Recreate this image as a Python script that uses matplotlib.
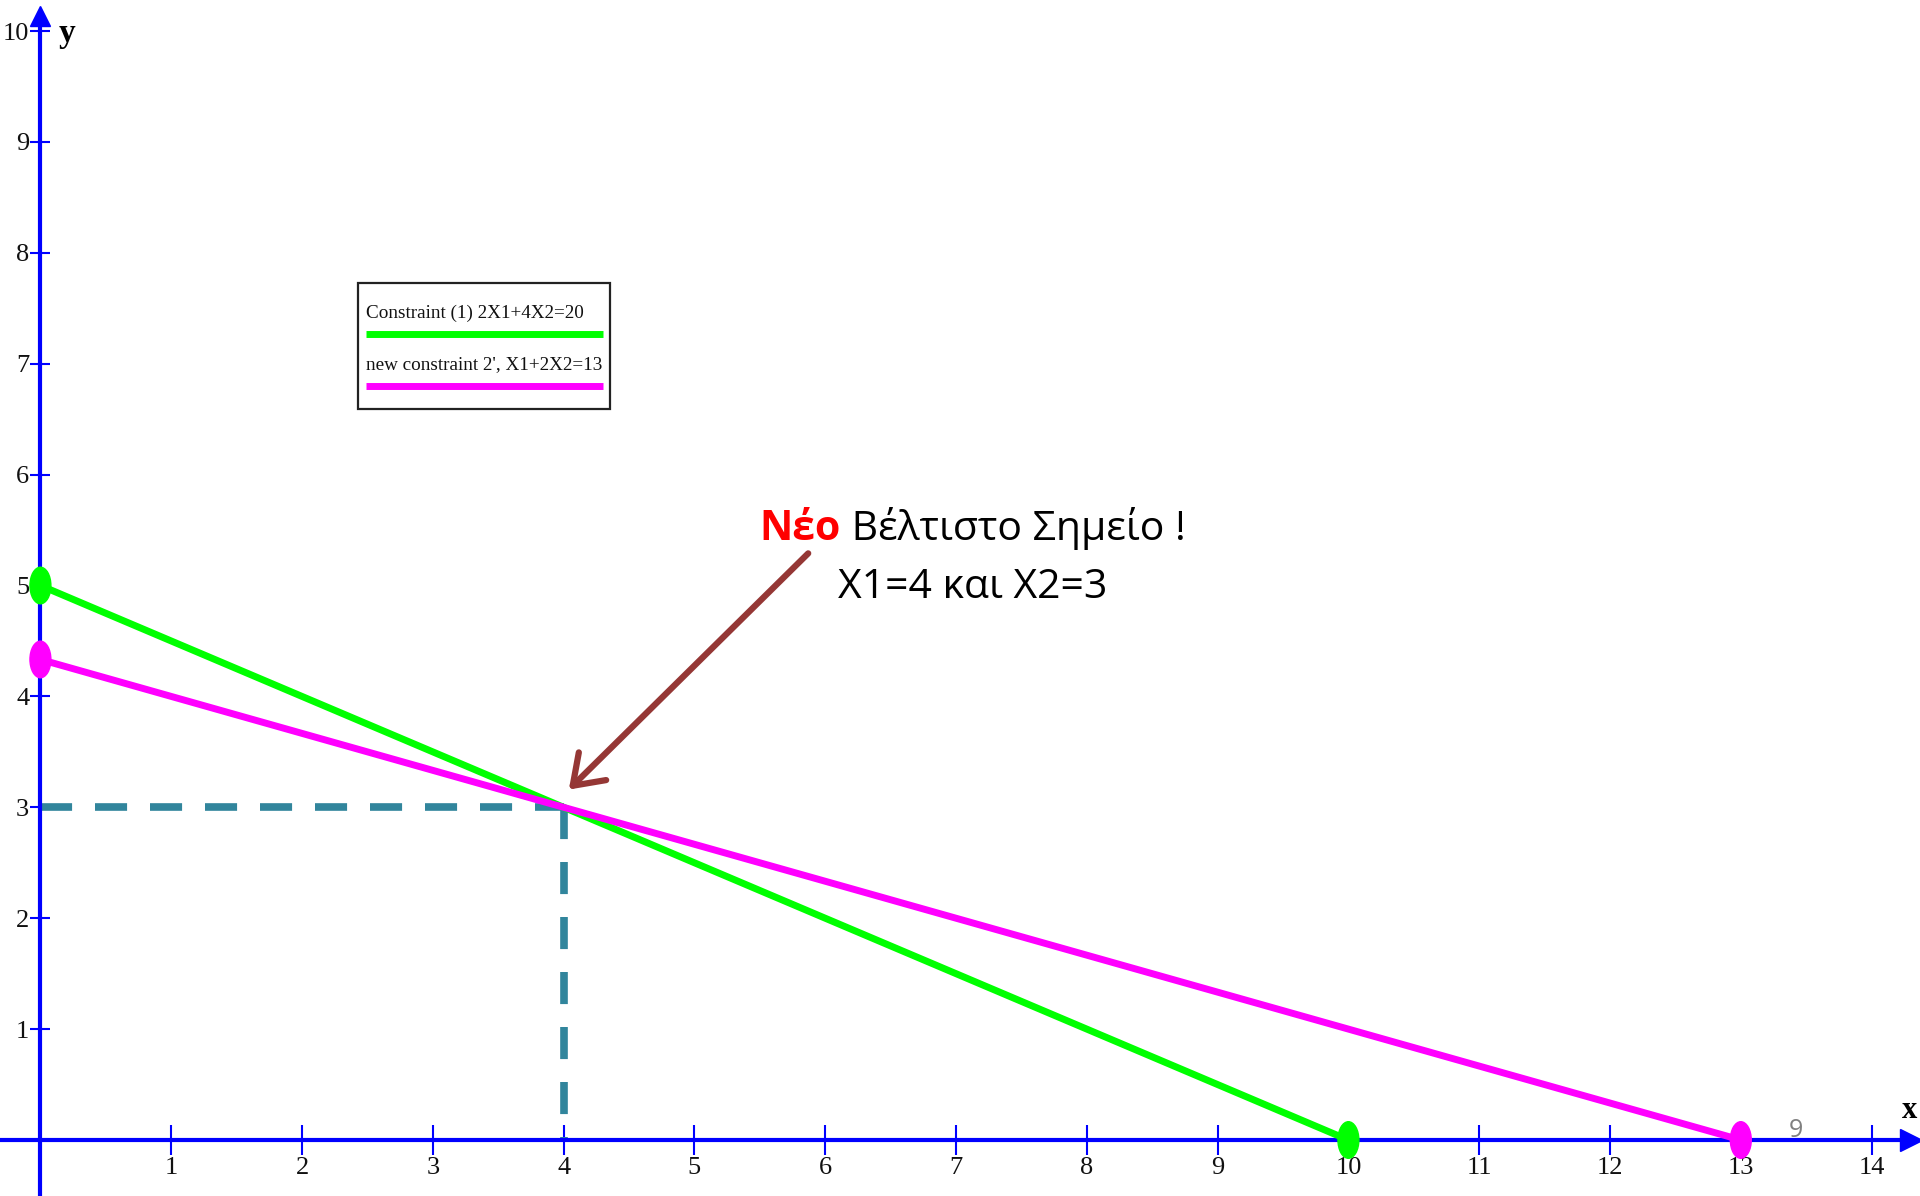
import matplotlib
matplotlib.use('Agg')
import matplotlib.pyplot as plt
from matplotlib.patches import Ellipse, Rectangle
from matplotlib.lines import Line2D

# data
x_ticks = list(range(1, 15))
y_ticks = list(range(1, 11))
c1_x = [0, 10]          # 2X1+4X2=20
c1_y = [5, 0]
c2_x = [0, 13]          # X1+2X2=13
c2_y = [13 / 3, 0]
opt_x, opt_y = 4, 3
legend_labels = ["Constraint (1) 2X1+4X2=20", "new constraint 2', X1+2X2=13"]

colors = {
    'axis': '#0000FF',
    'c1': '#00FF00',
    'c2': '#FF00FF',
    'dash': '#31859C',
    'arrow': '#953735',
}

fig = plt.figure(figsize=(19.2, 11.96), dpi=100)
ax = fig.add_axes([0, 0, 1, 1])
ax.set_xlim(-0.309, 14.37)
ax.set_ylim(-0.505, 10.28)
ax.set_facecolor('white')

# axes through the origin
for s in ['top', 'right']:
    ax.spines[s].set_visible(False)
ax.spines['left'].set_position(('data', 0))
ax.spines['bottom'].set_position(('data', 0))
for s in ['left', 'bottom']:
    ax.spines[s].set_color(colors['axis'])
    ax.spines[s].set_linewidth(3)
ax.spines['left'].set_bounds(-0.6, 10.15)
ax.spines['bottom'].set_bounds(-0.4, 14.3)

ax.set_xticks(x_ticks)
ax.set_yticks(y_ticks)
ax.set_xticklabels([str(v) for v in x_ticks])
ax.set_yticklabels([str(v) for v in y_ticks])
ax.tick_params(axis='x', direction='inout', length=21, width=1.5, color=colors['axis'], pad=2)
ax.tick_params(axis='y', direction='inout', length=14, width=1.5, color=colors['axis'], pad=1)
for lab in ax.get_xticklabels() + ax.get_yticklabels():
    lab.set_family('Liberation Serif')
    lab.set_fontsize(19)
    lab.set_color('#111111')

# arrow heads of the axes
ax.plot([0], [10.14], marker='^', markersize=14, color=colors['axis'], clip_on=False, zorder=5)
ax.plot([14.3], [0], marker='>', markersize=16, color=colors['axis'], clip_on=False, zorder=5)
ax.text(0.14, 9.98, 'y', family='Liberation Serif', fontweight='bold', fontsize=24, ha='left', va='center')
ax.text(14.23, 0.27, 'x', family='Liberation Serif', fontweight='bold', fontsize=22, ha='left', va='center')

# dashed guide lines to the optimum
dash_kw = dict(color=colors['dash'], lw=5.5, dashes=(4.2, 3.0), solid_capstyle='butt', zorder=2)
ax.plot([0, opt_x], [opt_y, opt_y], **dash_kw)
ax.plot([opt_x, opt_x], [opt_y, 0], **dash_kw)

# constraint lines
ax.plot(c1_x, c1_y, color=colors['c1'], lw=5, zorder=3)
ax.plot(c2_x, c2_y, color=colors['c2'], lw=5, zorder=4)
for xs, ys, col in [(c1_x, c1_y, colors['c1']), (c2_x, c2_y, colors['c2'])]:
    for px, py in zip(xs, ys):
        ax.add_patch(Ellipse((px, py), 0.16, 0.33, color=col, zorder=6))

# annotation arrow
ax.annotate('', xy=(opt_x + 0.04, opt_y + 0.16), xytext=(5.87, 5.29),
            arrowprops=dict(arrowstyle='->, head_length=0.5, head_width=0.35', color=colors['arrow'],
                            lw=4.5, mutation_scale=40, shrinkA=0, shrinkB=0), zorder=7)

t1 = ax.text(5.50, 5.32, 'Νέο', family='Open Sans', fontweight='bold', fontsize=29.5,
             color='#FF0000', ha='left', va='bottom')
ax.annotate(' Βέλτιστο Σημείο !', xy=(1, 0), xycoords=t1, family='Open Sans', fontsize=29.5,
            color='black', ha='left', va='bottom')
ax.text(7.13, 4.80, 'X1=4 και X2=3', family='Open Sans', fontsize=29.5, color='black',
        ha='center', va='bottom')

# page number
ax.text(13.42, 0.09, '9', family='Open Sans', fontsize=18, color='#808080', ha='center', va='center')

# legend box drawn by hand
tr = fig.transFigure
W, H = 1920, 1196
def fx(px):
    return px / W
def fy(py):
    return 1 - py / H

fig.patches.append(Rectangle((fx(358), fy(409)), fx(610) - fx(358), fy(283) - fy(409),
                             transform=tr, fill=False, edgecolor='#222222', lw=1.6, zorder=8))
fig.text(fx(366), fy(313), legend_labels[0], family='Liberation Serif', fontsize=13.8,
         ha='left', va='center', color='#111111')
fig.lines.append(Line2D([fx(366), fx(603)], [fy(334), fy(334)], transform=tr,
                        color=colors['c1'], lw=5, solid_capstyle='butt'))
fig.text(fx(366), fy(365), legend_labels[1], family='Liberation Serif', fontsize=13.8,
         ha='left', va='center', color='#111111')
fig.lines.append(Line2D([fx(366), fx(603)], [fy(386), fy(386)], transform=tr,
                        color=colors['c2'], lw=5, solid_capstyle='butt'))

plt.savefig('out.png', dpi=100, facecolor='white')
